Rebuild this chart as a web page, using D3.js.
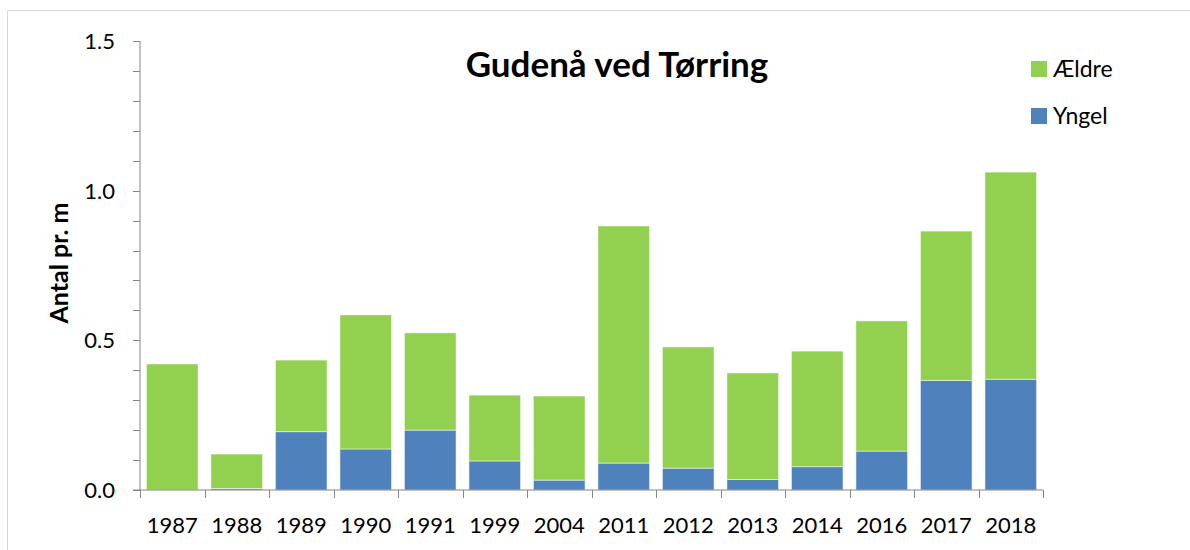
<!DOCTYPE html>
<html>
<head>
<meta charset="utf-8">
<script src="https://cdn.jsdelivr.net/npm/d3@7"></script>
<style>
  body { margin: 0; background: #fff; }
  svg { display: block; font-family: Lato, 'Open Sans', sans-serif; }
</style>
</head>
<body>
<svg id="chart" width="1190" height="550"></svg>
<script>
const years = ['1987', '1988', '1989', '1990', '1991', '1999', '2004', '2011', '2012', '2013', '2014', '2016', '2017', '2018'];
const yngel = [0, 0.005, 0.195, 0.137, 0.2, 0.097, 0.033, 0.09, 0.073, 0.035, 0.078, 0.13, 0.366, 0.37];
const aeldre = [0.421, 0.115, 0.239, 0.448, 0.325, 0.22, 0.281, 0.792, 0.405, 0.356, 0.386, 0.435, 0.499, 0.692];
const seriesNames = ['Yngel', 'Ældre'];
const yTicks = [0, 0.5, 1.0, 1.5];

const colors = {'Yngel': '#4f81bd', 'Ældre': '#92d050'};

const svg = d3.select('#chart');

// faint frame of the chart area
svg.append('path')
    .attr('d', 'M7.5,560 V10.5 H1200')
    .attr('fill', 'none')
    .attr('stroke', '#d9d9d9');

const x = d3.scaleBand().domain(years).range([140, 1043]).paddingInner(0.2).paddingOuter(0.1);
const y = d3.scaleLinear().domain([0, 1.5]).range([490, 41]);

const rows = years.map((yr, i) => ({year: yr, 'Yngel': yngel[i], 'Ældre': aeldre[i]}));
const stacked = d3.stack().keys(seriesNames)(rows);

svg.append('g')
    .selectAll('g')
    .data(stacked)
    .join('g')
    .attr('fill', d => colors[d.key])
    .selectAll('rect')
    .data(d => d)
    .join('rect')
    .attr('x', d => x(d.data.year))
    .attr('width', x.bandwidth())
    .attr('y', d => y(d[1]))
    .attr('height', d => Math.max(0, y(d[0]) - y(d[1])))
    .attr('stroke', 'rgba(255,255,255,0.5)')
    .attr('stroke-width', 1);

// y axis with minor ticks
const axisColor = '#868686';
const yAxis = svg.append('g').attr('transform', 'translate(140,0)');
yAxis.append('line')
    .attr('y1', y(0)).attr('y2', y(1.5))
    .attr('stroke', axisColor);
yAxis.selectAll('line.tick')
    .data(d3.range(0, 16).map(v => v / 10))
    .join('line')
    .attr('class', 'tick')
    .attr('x1', -7).attr('x2', 0)
    .attr('y1', d => Math.round(y(d)) + 0.5).attr('y2', d => Math.round(y(d)) + 0.5)
    .attr('stroke', axisColor);
yAxis.selectAll('text')
    .data(yTicks)
    .join('text')
    .attr('x', -25)
    .attr('y', d => y(d))
    .attr('dy', '0.36em')
    .attr('text-anchor', 'end')
    .attr('font-size', 22)
    .attr('fill', '#000')
    .text(d => d.toFixed(1));

// x axis
const xAxis = svg.append('g').attr('transform', `translate(0,${y(0)})`);
xAxis.append('line')
    .attr('x1', 133).attr('x2', 1043)
    .attr('stroke', axisColor);
const bounds = years.map(yr => x(yr) - x.step() * x.paddingInner() / 2).concat([1043]);
xAxis.selectAll('line.tick')
    .data(bounds)
    .join('line')
    .attr('class', 'tick')
    .attr('x1', d => Math.round(d) + 0.5).attr('x2', d => Math.round(d) + 0.5)
    .attr('y1', 0).attr('y2', 8)
    .attr('stroke', axisColor);
xAxis.selectAll('text')
    .data(years)
    .join('text')
    .attr('x', d => x(d) + x.bandwidth() / 2)
    .attr('y', 43)
    .attr('text-anchor', 'middle')
    .attr('font-size', 22)
    .attr('fill', '#000')
    .text(d => d);

// y label
svg.append('text')
    .attr('transform', 'translate(68,263) rotate(-90)')
    .attr('text-anchor', 'middle')
    .attr('font-size', 25)
    .attr('font-weight', 'bold')
    .text('Antal pr. m');

// title
svg.append('text')
    .attr('x', 617)
    .attr('y', 77)
    .attr('text-anchor', 'middle')
    .attr('font-size', 35)
    .attr('font-weight', 'bold')
    .text('Gudenå ved Tørring');

// legend
const legendItems = ['Ældre', 'Yngel'];
const legend = svg.append('g')
    .selectAll('g')
    .data(legendItems)
    .join('g')
    .attr('transform', (d, i) => `translate(1031,${61 + i * 47})`);
legend.append('rect')
    .attr('width', 16).attr('height', 16)
    .attr('fill', d => colors[d]);
legend.append('text')
    .attr('x', 22).attr('y', 8)
    .attr('dy', '0.36em')
    .attr('font-size', 23)
    .text(d => d);
</script>
</body>
</html>
